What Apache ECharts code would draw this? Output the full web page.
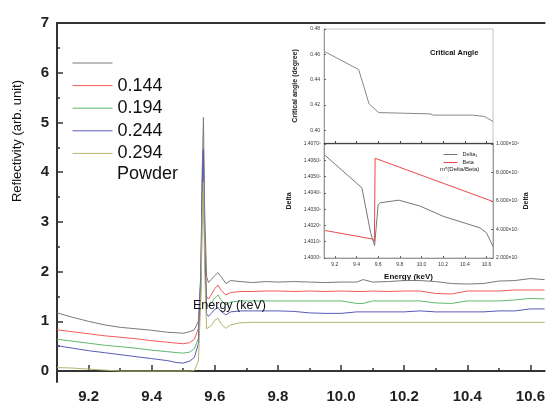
<!DOCTYPE html>
<html>
<head>
<meta charset="utf-8">
<script src="https://cdn.jsdelivr.net/npm/echarts@6.0.0/dist/echarts.min.js"></script>
<style>
html, body { margin: 0; padding: 0; background: #fff; }
#main { width: 548px; height: 404px; }
</style>
</head>
<body>
<div id="main"></div>
<script>
// main plot: reflectivity vs energy (keV)
var energy = [9.10, 9.15, 9.20, 9.25, 9.30, 9.35, 9.40, 9.45, 9.48, 9.50, 9.52, 9.535,
  9.548, 9.556, 9.560, 9.564, 9.568, 9.574, 9.58, 9.59, 9.60, 9.61, 9.62, 9.635, 9.65,
  9.68, 9.72, 9.76, 9.80, 9.85, 9.90, 9.95, 10.00, 10.05, 10.07, 10.10, 10.15, 10.20,
  10.25, 10.30, 10.35, 10.40, 10.45, 10.50, 10.55, 10.60, 10.645];
var grayCurve = [1.17, 1.08, 1.00, 0.93, 0.88, 0.85, 0.82, 0.78, 0.77, 0.76, 0.79, 0.83,
  1.00, 2.00, 4.00, 5.10, 3.20, 1.90, 1.78, 1.85, 1.92, 1.98, 1.90, 1.76, 1.82,
  1.80, 1.78, 1.80, 1.79, 1.80, 1.79, 1.78, 1.79, 1.79, 1.84, 1.79, 1.80, 1.82,
  1.82, 1.80, 1.76, 1.75, 1.76, 1.81, 1.82, 1.86, 1.84];
var curve144 = [0.83, 0.79, 0.75, 0.71, 0.68, 0.65, 0.61, 0.58, 0.56, 0.55, 0.57, 0.64,
  0.85, 1.80, 3.50, 4.30, 2.60, 1.50, 1.45, 1.55, 1.66, 1.73, 1.62, 1.53, 1.58,
  1.60, 1.60, 1.61, 1.61, 1.60, 1.61, 1.60, 1.61, 1.60, 1.60, 1.61, 1.60, 1.61,
  1.61, 1.56, 1.55, 1.61, 1.61, 1.61, 1.63, 1.63, 1.63];
var curve194 = [0.64, 0.60, 0.56, 0.52, 0.49, 0.46, 0.42, 0.39, 0.37, 0.36, 0.38, 0.45,
  0.65, 1.60, 3.20, 4.10, 2.40, 1.35, 1.30, 1.38, 1.47, 1.53, 1.43, 1.33, 1.39,
  1.41, 1.41, 1.41, 1.41, 1.41, 1.41, 1.41, 1.41, 1.36, 1.36, 1.41, 1.41, 1.41,
  1.41, 1.37, 1.36, 1.41, 1.41, 1.41, 1.43, 1.46, 1.45];
var curve244 = [0.51, 0.46, 0.41, 0.37, 0.33, 0.29, 0.25, 0.21, 0.17, 0.16, 0.20, 0.27,
  0.55, 2.00, 3.80, 4.46, 2.50, 1.15, 1.10, 1.17, 1.24, 1.28, 1.20, 1.13, 1.19,
  1.21, 1.21, 1.21, 1.21, 1.20, 1.17, 1.16, 1.16, 1.19, 1.19, 1.19, 1.19, 1.19,
  1.21, 1.19, 1.19, 1.19, 1.19, 1.21, 1.21, 1.25, 1.25];
var curve294 = [0.07, 0.06, 0.04, 0.02, 0.00, 0.00, 0.00, 0.00, 0.00, 0.00, 0.00, 0.01,
  0.20, 1.50, 3.00, 3.80, 2.00, 0.85, 0.82, 0.92, 1.02, 1.06, 0.95, 0.86, 0.93,
  0.97, 0.98, 0.98, 0.98, 0.98, 0.98, 0.98, 0.98, 0.98, 0.98, 0.98, 0.98, 0.98,
  0.98, 0.98, 0.98, 0.98, 0.98, 0.98, 0.98, 0.98, 0.98];
var seriesNames = ['unlabelled', '0.144', '0.194', '0.244', '0.294'];
var seriesColors = ['#7a7a7a', '#f25a5a', '#5fb872', '#5a5ab8', '#b4b46e'];
var xTicks = [9.2, 9.4, 9.6, 9.8, 10.0, 10.2, 10.4, 10.6];
var xMinorTicks = [9.3, 9.5, 9.7, 9.9, 10.1, 10.3, 10.5];
var yTicks = [0, 1, 2, 3, 4, 5, 6, 7];
var yMinorTicks = [0.5, 1.5, 2.5, 3.5, 4.5, 5.5, 6.5];

// inset: critical angle (top), delta / beta (bottom)
var angleEnergy = [9.11, 9.42, 9.47, 9.515, 9.605, 9.62, 10.08, 10.11, 10.47, 10.58, 10.66];
var criticalAngle = [0.462, 0.448, 0.434, 0.421, 0.414, 0.413, 0.413, 0.412, 0.412, 0.411, 0.407];
var deltaEnergy = [9.11, 9.45, 9.53, 9.567, 9.60, 9.62, 9.79, 9.99, 10.20, 10.54, 10.60, 10.66];
var delta1 = [6.30, 4.31, 1.56, 0.76, 3.28, 3.39, 3.55, 3.18, 2.56, 1.85, 1.54, 0.71];
var betaEnergy = [9.11, 9.55, 9.565, 9.572, 10.66];
var beta = [0.966, 0.665, 0.58, 3.50, 1.98];
var angleTicks = [0.40, 0.42, 0.44, 0.46, 0.48];
var insetXTicks = [9.2, 9.4, 9.6, 9.8, 10.0, 10.2, 10.4, 10.6];
var deltaTickLabels = ['1.4000\u2075', '1.4010\u2075', '1.4020\u2075', '1.4030\u2075',
  '1.4040\u2075', '1.4050\u2075', '1.4060\u2075', '1.4070\u2075'];
var betaTickLabels = ['2.000\u00d710\u2077', '4.000\u00d710\u2077', '6.000\u00d710\u2077',
  '8.000\u00d710\u2077', '1.000\u00d710\u2076'];

function pairs(xs, ys) {
  return xs.map(function (x, i) { return [x, ys[i]]; });
}

var myChart = echarts.init(document.getElementById('main'));
var font = 'Liberation Sans, Arial, sans-serif';
var mainCurves = [grayCurve, curve144, curve194, curve244, curve294];

var series = mainCurves.map(function (vals, i) {
  return {
    name: seriesNames[i],
    type: 'line',
    xAxisIndex: 0,
    yAxisIndex: 0,
    data: pairs(energy, vals),
    symbol: 'none',
    lineStyle: { width: 1, color: seriesColors[i] },
    itemStyle: { color: seriesColors[i] },
    z: 2
  };
});
series.push({
  name: 'Critical angle', type: 'line', xAxisIndex: 3, yAxisIndex: 2,
  data: pairs(angleEnergy, criticalAngle), symbol: 'none', z: 4,
  lineStyle: { width: 1, color: '#888' }, itemStyle: { color: '#888' }
});
series.push({
  name: 'Delta\u2081', type: 'line', xAxisIndex: 4, yAxisIndex: 3,
  data: pairs(deltaEnergy, delta1), symbol: 'none', z: 4,
  lineStyle: { width: 1, color: '#777' }, itemStyle: { color: '#777' }
});
series.push({
  name: 'Beta', type: 'line', xAxisIndex: 4, yAxisIndex: 4,
  data: pairs(betaEnergy, beta), symbol: 'none', z: 4,
  lineStyle: { width: 1, color: '#f04848' }, itemStyle: { color: '#f04848' }
});

var tinyLabel = { fontSize: 5, color: '#333', fontFamily: font };

myChart.setOption({
  animation: false,
  backgroundColor: '#fff',
  textStyle: { fontFamily: font },
  grid: [
    { left: 57, top: 23, width: 490, height: 361 },
    { left: 324, top: 29, width: 169, height: 114, show: true, backgroundColor: '#fff', borderColor: '#c4c4c4', borderWidth: 1 },
    { left: 324, top: 144, width: 169, height: 114, show: true, backgroundColor: '#fff', borderColor: '#b0b0b0', borderWidth: 1 }
  ],
  legend: [
    {
      data: seriesNames, orient: 'vertical', left: 72, top: 54, padding: 0,
      itemWidth: 40, itemHeight: 18, itemGap: 4.6,
      itemStyle: { opacity: 0 },
      lineStyle: { width: 1, color: 'inherit' },
      formatter: function (name) { return name === 'unlabelled' ? ' ' : name; },
      textStyle: { fontSize: 18, color: '#111', fontFamily: font },
      selectedMode: false
    },
    {
      data: ['Delta\u2081', 'Beta'], orient: 'vertical', left: 443, top: 151.5, padding: 0,
      itemWidth: 14, itemHeight: 5, itemGap: 2, z: 10,
      itemStyle: { opacity: 0 },
      lineStyle: { width: 1, color: 'inherit' },
      textStyle: { fontSize: 5.5, color: '#222', fontFamily: font },
      selectedMode: false
    }
  ],
  xAxis: [
    {
      gridIndex: 0, type: 'value', min: 9.1, max: 10.645, position: 'bottom',
      axisLine: { lineStyle: { color: '#333', width: 2 } },
      axisTick: { inside: true, length: 6, customValues: xTicks, lineStyle: { color: '#333', width: 1.5 } },
      axisLabel: { customValues: xTicks, fontSize: 15, fontWeight: 'bold', color: '#222', margin: 7,
        formatter: function (v) { return v.toFixed(1); } },
      splitLine: { show: false }
    },
    {
      gridIndex: 0, type: 'value', min: 9.1, max: 10.645, position: 'bottom',
      axisLine: { show: false },
      axisTick: { inside: true, length: 3, customValues: xMinorTicks, lineStyle: { color: '#333', width: 1.5 } },
      axisLabel: { show: false }, splitLine: { show: false }
    },
    {
      gridIndex: 0, type: 'value', min: 9.1, max: 10.645, position: 'top',
      axisLine: { lineStyle: { color: '#333', width: 2 } },
      axisTick: { show: false }, axisLabel: { show: false }, splitLine: { show: false }
    },
    {
      gridIndex: 1, type: 'value', min: 9.1, max: 10.66, position: 'bottom',
      axisLine: { lineStyle: { color: '#444', width: 1 } },
      axisTick: { inside: true, length: 2, customValues: insetXTicks, lineStyle: { color: '#444' } },
      axisLabel: { show: false }, splitLine: { show: false }
    },
    {
      gridIndex: 2, type: 'value', min: 9.1, max: 10.66, position: 'bottom',
      name: 'Energy (keV)', nameLocation: 'middle', nameGap: 15,
      nameTextStyle: { fontSize: 8, fontWeight: 'bold', color: '#111' },
      axisLine: { lineStyle: { color: '#999', width: 1 } },
      axisTick: { inside: true, length: 2, customValues: insetXTicks, lineStyle: { color: '#666' } },
      axisLabel: Object.assign({ customValues: insetXTicks, margin: 4,
        formatter: function (v) { return v.toFixed(1); } }, tinyLabel),
      splitLine: { show: false }
    }
  ],
  yAxis: [
    {
      gridIndex: 0, type: 'value', min: -0.22, max: 7, position: 'left',
      axisLine: { show: true, lineStyle: { color: '#333', width: 2 } },
      axisTick: { show: true, inside: true, length: 6, customValues: yTicks, lineStyle: { color: '#333', width: 1.5 } },
      axisLabel: { customValues: yTicks, fontSize: 15, fontWeight: 'bold', color: '#222', margin: 8 },
      splitLine: { show: false }
    },
    {
      gridIndex: 0, type: 'value', min: -0.22, max: 7, position: 'left',
      axisLine: { show: false },
      axisTick: { show: true, inside: true, length: 3, customValues: yMinorTicks, lineStyle: { color: '#333', width: 1.5 } },
      axisLabel: { show: false }, splitLine: { show: false }
    },
    {
      gridIndex: 1, type: 'value', min: 0.39, max: 0.48, position: 'left',
      name: 'Critical angle (degree)', nameLocation: 'middle', nameGap: 25,
      nameTextStyle: { fontSize: 7, fontWeight: 'bold', color: '#222' },
      axisLine: { show: true, lineStyle: { color: '#999', width: 1 } },
      axisTick: { show: true, inside: true, length: 2, customValues: angleTicks, lineStyle: { color: '#666' } },
      axisLabel: Object.assign({ customValues: angleTicks, margin: 4,
        formatter: function (v) { return v.toFixed(2); } }, tinyLabel),
      splitLine: { show: false }
    },
    {
      gridIndex: 2, type: 'value', min: 0, max: 7, position: 'left',
      name: 'Delta', nameLocation: 'middle', nameGap: 31,
      nameTextStyle: { fontSize: 7, fontWeight: 'bold', color: '#222' },
      axisLine: { show: true, lineStyle: { color: '#999', width: 1 } },
      axisTick: { show: true, inside: true, length: 2, customValues: yTicks, lineStyle: { color: '#666' } },
      axisLabel: Object.assign({ customValues: yTicks, margin: 3,
        formatter: function (v) { return deltaTickLabels[v]; } }, tinyLabel),
      splitLine: { show: false }
    },
    {
      gridIndex: 2, type: 'value', min: 0, max: 4, position: 'right',
      name: 'Delta', nameLocation: 'middle', nameGap: 25,
      nameTextStyle: { fontSize: 7, fontWeight: 'bold', color: '#222' },
      axisLine: { show: true, lineStyle: { color: '#999', width: 1 } },
      axisTick: { show: true, inside: true, length: 2, customValues: [0, 1, 2, 3, 4], lineStyle: { color: '#666' } },
      axisLabel: Object.assign({ customValues: [0, 1, 2, 3, 4], margin: 3,
        formatter: function (v) { return betaTickLabels[v]; } }, tinyLabel),
      splitLine: { show: false }
    }
  ],
  graphic: [
    { type: 'text', x: 17, y: 141, rotation: Math.PI / 2, z: 10,
      style: { text: 'Reflectivity (arb. unit)', fontSize: 13, fill: '#111', fontFamily: font,
        align: 'center', verticalAlign: 'middle' } },
    { type: 'text', left: 117, top: 165, z: 10,
      style: { text: 'Powder', fontSize: 18, fill: '#111', fontFamily: font } },
    { type: 'text', left: 193, top: 299, z: 10,
      style: { text: 'Energy (keV)', fontSize: 12.5, fill: '#111', fontFamily: font } },
    { type: 'text', left: 430, top: 49, z: 10,
      style: { text: 'Critical Angle', fontSize: 7.5, fontWeight: 'bold', fill: '#111', fontFamily: font } },
    { type: 'text', left: 440, top: 166, z: 10,
      style: { text: 'm*(Delta/Beta)', fontSize: 6, fill: '#222', fontFamily: font } }
  ],
  series: series
});
</script>
</body>
</html>
